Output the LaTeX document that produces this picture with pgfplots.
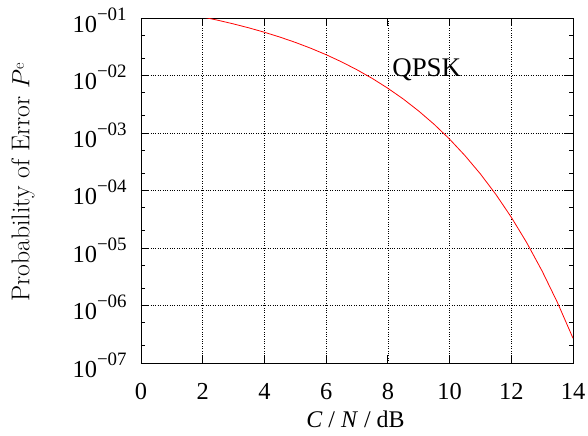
\documentclass[border=0pt]{standalone}
\usepackage{fontspec}
\setmainfont{Liberation Serif}
\usepackage{pgfplots}
\pgfplotsset{compat=1.18}

\newcommand{\tenexp}[1]{10\raisebox{12bp}{\fontsize{19}{19}\selectfont −#1}}

\begin{document}
\begin{tikzpicture}
\begin{axis}[
    scale only axis,
    width=432bp, height=345bp,
    ymode=log,
    xmin=0, xmax=14,
    ymin=1e-7, ymax=1e-1,
    xtick={0,2,...,14},
    ytick={1e-7,1e-6,1e-5,1e-4,1e-3,1e-2,1e-1},
    yticklabels={\tenexp{07},\tenexp{06},\tenexp{05},\tenexp{04},\tenexp{03},\tenexp{02},\tenexp{01}},
    minor ytick={2e-7,5e-7,2e-6,5e-6,2e-5,5e-5,2e-4,5e-4,2e-3,5e-3,2e-2,5e-2},
    /pgf/number format/assume math mode=true,
    tick align=inside,
    tick pos=both,
    major tick length=8bp,
    minor tick length=4bp,
    tick style={black, line width=0.8pt},
    axis line style={black, line width=0.8pt},
    grid=major,
    major grid style={black, dotted, line width=0.6pt},
    tick label style={font=\fontsize{24.5}{28}\selectfont},
    xticklabel style={anchor=base, yshift=-36bp},
    yticklabel style={anchor=base east, xshift=-10.8bp, yshift=-14.3bp},
    xlabel={\textit{C} / \textit{N} / dB},
    ylabel={\fontfamily{lmr}\selectfont Probability of Error $P$\raisebox{5.5bp}{\fontsize{16}{16}\selectfont e}},
    every axis x label/.style={at={(axis description cs:0.4965,-0.1855)}, anchor=base,
        font=\fontsize{24}{28}\selectfont},
    every axis y label/.style={at={(axis description cs:-0.273,0.523)}, rotate=90, anchor=center,
        font=\fontsize{25.8}{28}\selectfont},
]
\addplot[red, line width=0.8pt] coordinates {
    (2,0.1041) (2.5,0.0912) (3,0.0789) (3.5,0.0673) (4,0.0565) (4.5,0.0466)
    (5,0.0377) (5.5,0.0298) (6,0.0230) (6.5,0.01727) (7,0.01257) (7.5,0.00886)
    (8,0.0060) (8.5,0.0039) (9,0.00241) (9.5,0.001416) (10,7.83e-4) (10.5,4.04e-4)
    (11,1.94e-4) (11.5,8.56e-5) (12,3.43e-5) (12.5,1.239e-5) (13,3.97e-6)
    (13.5,1.114e-6) (14,2.70e-7)
};
\node[anchor=base, font=\fontsize{27}{30}\selectfont] at (axis cs:9.26,9.8e-3) {QPSK};
\end{axis}
\pgfresetboundingbox
\path ([xshift=-141bp,yshift=-73bp]current axis.south west) rectangle ([xshift=15bp,yshift=18bp]current axis.north east);
\end{tikzpicture}
\end{document}
